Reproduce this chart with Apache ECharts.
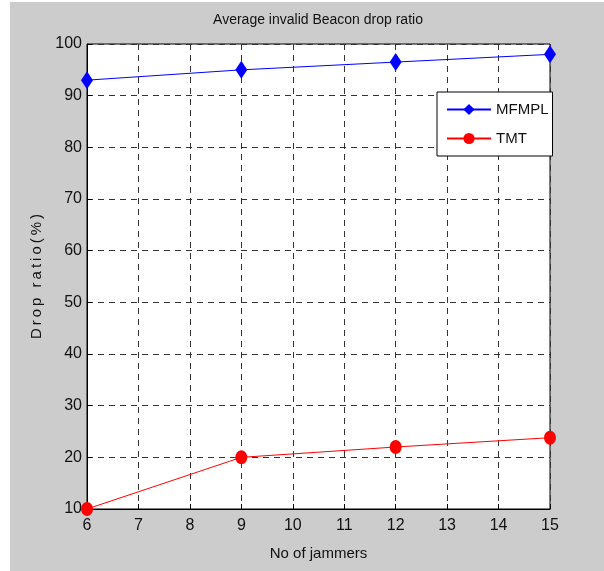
<!DOCTYPE html>
<html>
<head>
<meta charset="utf-8">
<script src="https://cdn.jsdelivr.net/npm/echarts@6/dist/echarts.min.js"></script>
<style>
  html, body { margin: 0; padding: 0; background: #fff; }
  #chart { width: 604px; height: 571px; }
</style>
</head>
<body>
<div id="chart"></div>
<script>
// data
const jammers = [6, 9, 12, 15]
const mfmpl = [93, 95, 96.5, 98]
const tmt = [10, 20, 22, 23.8]

const font = '"Liberation Sans", Arial, sans-serif'

const chart = echarts.init(document.getElementById('chart'))

const dashed = { color: '#333', width: 1, type: [6, 5] }

// thin spaces between letters, like the matlab label
const yName = 'Drop ratio(%)'.split('').join('\u2009')

const option = {
  backgroundColor: '#fff',
  animation: false,
  graphic: [
    {
      type: 'rect',
      left: 10, top: 2,
      shape: { width: 594, height: 569 },
      style: { fill: '#cccccc' },
      z: -10
    },
    {
      type: 'text',
      x: 318, y: 20,
      style: {
        text: 'Average invalid Beacon drop ratio',
        fontFamily: font, fontSize: 14, fill: '#111',
        textAlign: 'center', textVerticalAlign: 'middle'
      }
    }
  ],
  grid: {
    left: 87, top: 44, width: 463, height: 465,
    show: true,
    backgroundColor: '#fff',
    borderColor: '#000',
    borderWidth: 1
  },
  legend: {
    orient: 'vertical',
    left: 437, top: 92,
    backgroundColor: '#fff',
    borderColor: '#000',
    borderWidth: 1,
    borderRadius: 0,
    padding: [10, 4, 10, 9],
    itemGap: 14,
    itemWidth: 44,
    itemHeight: 14,
    textStyle: { fontFamily: font, fontSize: 15, color: '#111' },
    data: ['MFMPL', 'TMT']
  },
  xAxis: {
    type: 'value',
    min: 6, max: 15, interval: 1,
    name: 'No of jammers',
    nameLocation: 'middle',
    nameGap: 37,
    nameTextStyle: { fontFamily: font, fontSize: 15, color: '#111' },
    axisLine: { lineStyle: { color: '#000' } },
    axisTick: { inside: true, length: 5, lineStyle: { color: '#000' } },
    axisLabel: { fontFamily: font, fontSize: 16, color: '#111', margin: 9 },
    splitLine: { lineStyle: dashed }
  },
  yAxis: {
    type: 'value',
    min: 10, max: 100, interval: 10,
    name: yName,
    nameLocation: 'middle',
    nameGap: 34,
    nameTextStyle: { fontFamily: font, fontSize: 15, color: '#111' },
    axisLine: { lineStyle: { color: '#000' } },
    axisTick: { inside: true, length: 5, lineStyle: { color: '#000' } },
    axisLabel: { fontFamily: font, fontSize: 16, color: '#111', margin: 5 },
    splitLine: { lineStyle: dashed }
  },
  series: [
    {
      name: 'MFMPL',
      type: 'line',
      data: jammers.map((x, i) => [x, mfmpl[i]]),
      symbol: 'diamond',
      symbolSize: [12, 18],
      lineStyle: { color: '#0000ff', width: 1 },
      itemStyle: { color: '#0000ff' },
      z: 5
    },
    {
      name: 'TMT',
      type: 'line',
      data: jammers.map((x, i) => [x, tmt[i]]),
      symbol: 'circle',
      symbolSize: [12, 14],
      lineStyle: { color: '#ff0000', width: 1 },
      itemStyle: { color: '#ff0000' },
      z: 5
    }
  ]
}

chart.setOption(option)
</script>
</body>
</html>
